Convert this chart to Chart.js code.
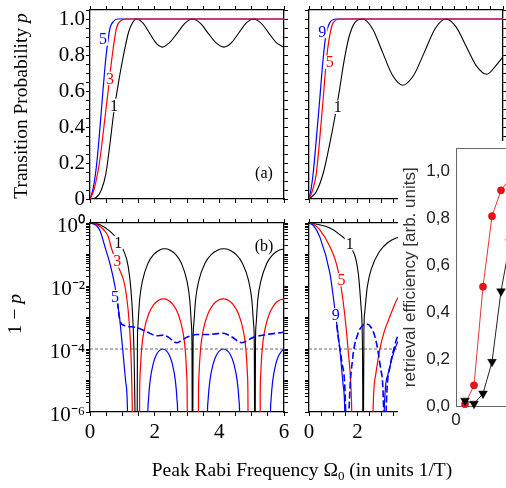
<!DOCTYPE html>
<html>
<head>
<meta charset="utf-8">
<script src="https://cdn.jsdelivr.net/npm/chart.js@4.4.1/dist/chart.umd.min.js"></script>
<style>
  html, body { margin: 0; padding: 0; background: #fff; }
  body { width: 506px; height: 488px; overflow: hidden; position: relative; font-family: "Liberation Serif", "Times New Roman", serif; }
  canvas { position: absolute; }
  .ttl { position: absolute; font-size: 19.5px; white-space: nowrap; color: #000; z-index: 6; line-height: 1; }
</style>
</head>
<body>
<canvas id="tl" width="292" height="207" style="left:0;top:0;z-index:1"></canvas>
<canvas id="tr" width="212" height="207" style="left:297px;top:0;z-index:1"></canvas>
<canvas id="bl" width="292" height="242" style="left:0;top:203px;z-index:2"></canvas>
<canvas id="br" width="212" height="242" style="left:297px;top:203px;z-index:2"></canvas>
<canvas id="ins" width="180" height="347" style="left:398px;top:141px;z-index:5;background:#fff"></canvas>

<div class="ttl" style="left:21px;top:106px;transform:translate(-50%,-50%) rotate(-90deg)">Transition Probability <i>p</i></div>
<div class="ttl" style="left:15px;top:314px;transform:translate(-50%,-50%) rotate(-90deg)">1 &minus; <i>p</i></div>
<div class="ttl" style="left:302px;top:471px;transform:translate(-50%,-50%)">Peak Rabi Frequency &Omega;<sub style="font-size:13px">0</sub> (in units 1/T)</div>

<script>
// ---------- colours ----------
const BLUE = '#0000ff', RED = '#ff0000', BLACK = '#000000';

// ---------- panel (a), left: transition probability p, N = 1, 3, 5 ----------
const tlX1 = [0,0.2,0.35,0.49,0.62,0.72,0.88,1.01,1.19,1.3,1.44,1.64,1.84,2.04,2.24,2.45,2.7,2.94,3.17,3.41,3.65,3.9,4.14,4.37,4.6,4.83,5.05,5.29,5.53,5.77,6.0];
const tlP1 = [0,0.01,0.05,0.14,0.31,0.46,0.645,0.775,0.925,0.975,1.0,0.977,0.922,0.867,0.844,0.867,0.922,0.977,1.0,0.977,0.922,0.867,0.844,0.867,0.922,0.977,1.0,0.977,0.922,0.867,0.844];
const tlX3 = [0,0.12,0.29,0.43,0.56,0.69,0.82,0.95,1.1,6];
const tlP3 = [0,0.05,0.2,0.4,0.6,0.8,0.95,0.99,1.0,1.0];
const tlX5 = [0,0.1,0.21,0.31,0.40,0.50,0.62,0.72,0.85,6];
const tlP5 = [0,0.06,0.2,0.4,0.6,0.8,0.95,0.985,1.0,1.0];

// ---------- panel (a), right: N = 1, 5, 9 ----------
const trX1 = [0,0.3,0.6,0.86,1.06,1.25,1.45,1.65,1.89,2.2,2.62,3.03,3.45,3.86,4.31,4.76,5.2,5.65,6.07,6.49,6.91,7.33,7.7,8.0];
const trP1 = [0,0.04,0.15,0.31,0.45,0.6,0.77,0.9,0.98,1.0,0.946,0.816,0.686,0.632,0.686,0.816,0.946,1.0,0.955,0.846,0.738,0.693,0.74,0.79];
const trX5 = [0,0.15,0.3,0.44,0.58,0.72,0.85,1.0,1.3,8];
const trP5 = [0,0.05,0.14,0.33,0.55,0.775,0.905,0.98,1.0,1.0];
const trX9 = [0,0.08,0.17,0.3,0.44,0.58,0.69,0.86,1.13,8];
const trP9 = [0,0.05,0.14,0.33,0.55,0.775,0.905,0.98,1.0,1.0];

// ---------- panel (b), left: 1 - p on a log axis ----------
const blX1 = [0,0.31,0.62,0.85,1.03,1.18,1.29,1.36,1.45, 1.467,1.484,1.536,1.622,1.794,1.966,2.138,2.31,2.482,2.654,2.826,2.998,3.084,3.136,3.153,3.17, 3.189,3.209,3.267,3.363,3.556,3.749,3.942,4.135,4.328,4.521,4.714,4.907,5.004,5.061,5.081,5.1, 5.118,5.137,5.19,5.285,5.47,5.655,5.84,6.0];
const blQ1 = [1,0.88,0.54,0.3,0.14,0.042,0.0036,9e-5,1e-9, 1.5e-4,6e-4,3.72e-3,0.01452,0.0525,0.0995,0.1375,0.152,0.1375,0.0995,0.0525,0.01452,3.72e-3,6e-4,1.5e-4,1e-9, 1.5e-4,6e-4,3.72e-3,0.01452,0.0525,0.0995,0.1375,0.152,0.1375,0.0995,0.0525,0.01452,3.72e-3,6e-4,1.5e-4,1e-9, 1.5e-4,6e-4,3.72e-3,0.01452,0.0525,0.0995,0.1375,0.151];
const blX3 = [0,0.15,0.29,0.43,0.56,0.67,0.88,1.08,1.2,1.26,1.31,1.34, 1.52,1.535,1.55,1.595,1.67,1.82,1.97,2.12,2.27,2.42,2.57,2.72,2.87,2.945,2.99,3.005,3.02, 3.34,3.356,3.371,3.418,3.496,3.652,3.808,3.964,4.12,4.276,4.432,4.588,4.744,4.822,4.869,4.884,4.9, 5.25,5.265,5.28,5.325,5.4,5.55,5.7,5.85,6.0];
const blQ3 = [1,0.96,0.8,0.6,0.38,0.15,0.04,0.01,1e-3,1e-4,1e-6,1e-9, 1e-9,3.85e-6,1.54e-5,9.55e-5,3.72e-4,1.347e-3,2.553e-3,3.528e-3,3.9e-3,3.528e-3,2.553e-3,1.347e-3,3.72e-4,9.55e-5,1.54e-5,3.85e-6,1e-9, 1e-9,3.85e-6,1.54e-5,9.55e-5,3.72e-4,1.347e-3,2.553e-3,3.528e-3,3.9e-3,3.528e-3,2.553e-3,1.347e-3,3.72e-4,9.55e-5,1.54e-5,3.85e-6,1e-9, 1e-9,3.85e-6,1.54e-5,9.55e-5,3.72e-4,1.347e-3,2.553e-3,3.528e-3,3.9e-3];
const blX5 = [0,0.15,0.3,0.49,0.62,0.77,0.91,1.01,1.1,1.16,1.19, 1.76,1.789,1.809,1.858,1.956,2.054,2.152,2.25,2.348,2.446,2.544,2.642,2.691,2.711,2.74, 3.6,3.632,3.653,3.706,3.812,3.918,4.024,4.13,4.236,4.342,4.448,4.554,4.607,4.628,4.66, 5.55,5.58,5.6,5.65,5.75,5.85,5.95,6.0];
const blQ5 = [1,0.9,0.6,0.14,0.05,0.01,1.07e-3,1e-4,1e-5,1e-6,1e-9, 1e-9,8.8e-7,2.45e-6,9.55e-6,3.45e-5,6.55e-5,9.05e-5,1e-4,9.05e-5,6.55e-5,3.45e-5,9.55e-6,2.45e-6,8.8e-7,1e-9, 1e-9,8.8e-7,2.45e-6,9.55e-6,3.45e-5,6.55e-5,9.05e-5,1e-4,9.05e-5,6.55e-5,3.45e-5,9.55e-6,2.45e-6,8.8e-7,1e-9, 1e-9,8.8e-7,2.45e-6,9.55e-6,3.45e-5,6.55e-5,9.05e-5,9.8e-5];
const blX5d = [0.85,0.9,0.95,1.03,1.44,1.75,2.06,2.27,2.43,2.68,2.99,3.3,3.61,3.85,4.12,4.38,4.69,5.05,5.47,6.0];
const blQ5d = [3.16e-3,1.12e-3,6.8e-4,5.75e-4,4.8e-4,3.55e-4,2.63e-4,2.75e-4,2.34e-4,1.58e-4,2.34e-4,2.88e-4,2.88e-4,3.0e-4,3.16e-4,2.45e-4,1.58e-4,2.34e-4,2.88e-4,3.39e-4];

// ---------- panel (b), right ----------
const brX1 = [0,0.28,0.86,1.27,1.68,2.03,2.15,2.21,2.23, 2.264,2.298,2.401,2.572,2.914,3.256,3.598,3.94,4.28,4.624,4.966,5.308,5.479,5.616,5.65, 5.684,5.818,5.986,6.322,6.658,6.994,7.33,7.666,8.0];
const brQ1 = [1,0.93,0.69,0.43,0.2,0.026,2e-3,5e-5,1e-9, 3.63e-4,1.45e-3,9.0e-3,0.0351,0.127,0.241,0.333,0.368,0.333,0.241,0.127,0.0351,9.0e-3,3.63e-4,1e-9, 3.03e-4,7.5e-3,0.0293,0.106,0.201,0.278,0.307,0.278,0.21];
const brX5 = [0,0.2,0.44,0.86,1.16,1.4,1.61,1.75,1.85, 2.6,2.64,2.75,2.92,3.1,3.27,3.45,3.65,3.9];
const brQ5 = [1,0.9,0.62,0.18,0.042,3.6e-3,1e-4,2.5e-6,1e-9, 1e-9,1e-6,1.5e-5,9.8e-5,3.5e-4,8e-4,1.8e-3,4e-3,6e-3];
const brX9 = [0,0.2,0.44,0.86,1.06,1.27,1.4,1.48,1.52, 3.06,3.1,3.25,3.45,3.65,3.9];
const brQ9 = [1,0.8,0.37,0.026,2e-3,1e-4,8e-6,8e-7,1e-9, 1e-9,1e-6,1.5e-5,6e-5,1.6e-4,3e-4];
const brX9d = [1.1,1.2,1.35,1.5,1.57,1.65,1.8,2.0,2.2,2.37,2.55,2.75,2.95,3.08,3.12,3.18,3.35,3.5,3.65,3.9];
const brQ9d = [1.2e-3,2.5e-4,4e-5,2e-6,1e-9,1e-6,5e-5,2.8e-4,5.5e-4,6.2e-4,5e-4,2e-4,2.5e-5,1e-6,1e-9,1e-6,3e-5,1e-4,2.5e-4,5e-4];

// reference level 1e-4
const refQ = [1e-4, 1e-4];

// ---------- inset: retrieval efficiency ----------
const insX = [1,2,3,4,5,6];
const insRed = [0.01,0.09,0.51,0.81,0.92,0.97];
const insBlack = [0.025,0.012,0.055,0.19,0.49,0.70];

// ---------- curve tags (data coordinates) ----------
const tagsTL = [{t:'5', x:0.40, y:0.89, c:BLUE}, {t:'3', x:0.62, y:0.67, c:RED}, {t:'1', x:0.74, y:0.52, c:BLACK}, {t:'(a)', x:5.38, y:0.145, c:BLACK, plain:true}];
const tagsTR = [{t:'9', x:0.55, y:0.93, c:BLUE}, {t:'5', x:0.86, y:0.76, c:RED}, {t:'1', x:1.19, y:0.51, c:BLACK}];
const tagsBL = [{t:'1', x:0.87, y:0.24, c:BLACK}, {t:'3', x:0.84, y:0.063, c:RED}, {t:'5', x:0.77, y:4.6e-3, c:BLUE}, {t:'(b)', x:5.38, y:0.19, c:BLACK, plain:true}];
const tagsBR = [{t:'1', x:1.68, y:0.22, c:BLACK}, {t:'5', x:1.34, y:0.0158, c:RED}, {t:'9', x:1.1, y:1.2e-3, c:BLUE}];

// ---------- helpers ----------
const SERIF = '"Liberation Serif", "Times New Roman", serif';
const SANS = '"Liberation Sans", Arial, sans-serif';
const SUP = { '0': '\u2070', '-2': '\u207B\u00B2', '-4': '\u207B\u2074', '-6': '\u207B\u2076' };

function series(xs, ys) { return xs.map((x, i) => ({ x, y: ys[i] })); }
function steps(a, b, d) { const out = []; const n = Math.round((b - a) / d); for (let i = 0; i <= n; i++) out.push(+(a + i * d).toFixed(6)); return out; }
function logSteps(e0, e1) { const out = []; for (let e = e0; e < e1; e++) for (let s = 1; s <= 9; s++) out.push(+(s * Math.pow(10, e)).toPrecision(6)); out.push(Math.pow(10, e1)); return out; }

function line(data, color, extra) {
  return Object.assign({ data, borderColor: color, backgroundColor: color, borderWidth: 1.2, pointRadius: 0, fill: false, cubicInterpolationMode: 'monotone' }, extra || {});
}

function frameAxis(pos, type, min, max, ticks, size, labels, tickOpts) {
  const horiz = pos === 'top' || pos === 'bottom';
  return {
    type, position: pos, min, max,
    afterBuildTicks: s => { s.ticks = ticks.map(v => ({ value: v })); },
    afterFit: s => { if (horiz) s.height = size; else s.width = size; s.paddingLeft = s.paddingRight = s.paddingTop = s.paddingBottom = 0; },
    grid: { display: true, drawOnChartArea: false, drawTicks: true, tickLength: 4, color: '#000', tickColor: '#000', tickWidth: 1 },
    border: { display: true, color: '#000', width: 1.3 },
    ticks: Object.assign({ display: !!labels, autoSkip: false, maxRotation: 0, minRotation: 0, padding: 2, color: '#000',
      font: { family: SERIF, size: 21 }, callback: labels || (() => '') }, tickOpts || {})
  };
}

const labP = v => { const k = Math.round(v * 20); if (k % 4 !== 0 || k > 20) return ''; return k === 0 ? '0' : (k / 20).toFixed(1); };
const labEven = v => (Math.abs(v / 2 - Math.round(v / 2)) < 1e-9 ? String(Math.round(v)) : '');
const labLog = v => { const r = Math.round(Math.log10(v)); return (Math.abs(v / Math.pow(10, r) - 1) < 1e-6 && r % 2 === 0) ? '10' + SUP[String(r === 0 ? 0 : r)] : ''; };

// text tags drawn on the curves, with a white gap behind them
const curveTags = {
  id: 'curveTags',
  afterDatasetsDraw(chart, args, opts) {
    const { ctx } = chart, xs = chart.scales.x, ys = chart.scales.y;
    const size = opts.size || 16;
    (opts.items || []).forEach(it => {
      const px = xs.getPixelForValue(it.x), py = ys.getPixelForValue(it.y);
      ctx.save();
      ctx.font = size + 'px ' + SERIF;
      const w = ctx.measureText(it.t).width;
      if (!it.plain) { ctx.fillStyle = '#fff'; ctx.fillRect(px - w / 2 - 1, py - size * 0.42, w + 2, size * 0.84); }
      ctx.fillStyle = it.c; ctx.textAlign = 'center'; ctx.textBaseline = 'middle';
      ctx.fillText(it.t, px, py + 1);
      ctx.restore();
    });
  }
};

function common(scales, tags) {
  return {
    responsive: false, maintainAspectRatio: false, animation: false, events: [],
    layout: { padding: 0 },
    plugins: { legend: { display: false }, tooltip: { enabled: false }, curveTags: { items: tags, size: 16 } },
    scales
  };
}

const xTicks6 = steps(0, 6, 0.5), xTicks8 = steps(0, 8, 0.5);
const pTicks = steps(0, 1.05, 0.05), qTicks = logSteps(-6, 0);

// ---------- panel (a) left ----------
new Chart(document.getElementById('tl'), {
  type: 'line',
  data: { datasets: [
    line(series(tlX3, tlP3), RED, { order: 0 }),
    line(series(tlX5, tlP5), BLUE, { order: 1 }),
    line(series(tlX1, tlP1), BLACK, { order: 2, borderWidth: 1.1 })
  ] },
  options: common({
    x: frameAxis('bottom', 'linear', 0, 6, xTicks6, 8),
    x2: frameAxis('top', 'linear', 0, 6, xTicks6, 10),
    y: frameAxis('left', 'linear', 0, 1.05, pTicks, 90, labP, { padding: 1 }),
    y2: frameAxis('right', 'linear', 0, 1.05, pTicks, 8)
  }, tagsTL),
  plugins: [curveTags]
});

// ---------- panel (a) right ----------
new Chart(document.getElementById('tr'), {
  type: 'line',
  data: { datasets: [
    line(series(trX5, trP5), RED, { order: 0 }),
    line(series(trX9, trP9), BLUE, { order: 1 }),
    line(series(trX1, trP1), BLACK, { order: 2, borderWidth: 1.1 })
  ] },
  options: common({
    x: frameAxis('bottom', 'linear', 0, 8, xTicks8, 8),
    x2: frameAxis('top', 'linear', 0, 8, xTicks8, 10),
    y: frameAxis('left', 'linear', 0, 1.05, pTicks, 12),
    y2: frameAxis('right', 'linear', 0, 1.05, pTicks, 6)
  }, tagsTR),
  plugins: [curveTags]
});

// ---------- panel (b) left ----------
new Chart(document.getElementById('bl'), {
  type: 'line',
  data: { datasets: [
    line(series([0, 6], refQ), '#444', { order: 4, borderWidth: 0.8, borderDash: [3, 2], cubicInterpolationMode: 'default' }),
    line(series(blX5d, blQ5d), BLUE, { order: 0, borderWidth: 1.6, borderDash: [7, 3] }),
    line(series(blX5, blQ5), BLUE, { order: 1 }),
    line(series(blX3, blQ3), RED, { order: 2 }),
    line(series(blX1, blQ1), BLACK, { order: 3, borderWidth: 1.1 })
  ] },
  options: common({
    x: frameAxis('bottom', 'linear', 0, 6, xTicks6, 33, labEven, { padding: 4 }),
    x2: frameAxis('top', 'linear', 0, 6, xTicks6, 20),
    y: frameAxis('logarithmic' === 'logarithmic' ? 'left' : 'left', 'logarithmic', 1e-6, 1, qTicks, 90, labLog, { padding: 1, labelOffset: 3 }),
    y2: frameAxis('right', 'logarithmic', 1e-6, 1, qTicks, 8)
  }, tagsBL),
  plugins: [curveTags]
});

// ---------- panel (b) right ----------
new Chart(document.getElementById('br'), {
  type: 'line',
  data: { datasets: [
    line(series([0, 8], refQ), '#444', { order: 4, borderWidth: 0.8, borderDash: [3, 2], cubicInterpolationMode: 'default' }),
    line(series(brX9d, brQ9d), BLUE, { order: 0, borderWidth: 1.6, borderDash: [7, 3] }),
    line(series(brX9, brQ9), BLUE, { order: 1 }),
    line(series(brX5, brQ5), RED, { order: 2 }),
    line(series(brX1, brQ1), BLACK, { order: 3, borderWidth: 1.1 })
  ] },
  options: common({
    x: frameAxis('bottom', 'linear', 0, 8, xTicks8, 33, labEven, { padding: 4 }),
    x2: frameAxis('top', 'linear', 0, 8, xTicks8, 20),
    y: frameAxis('left', 'logarithmic', 1e-6, 1, qTicks, 12),
    y2: frameAxis('right', 'logarithmic', 1e-6, 1, qTicks, 6)
  }, tagsBR),
  plugins: [curveTags]
});

// ---------- inset ----------
const insFrame = (pos, size) => ({
  afterFit: s => { if (pos === 'top' || pos === 'bottom') s.height = size; else s.width = size; s.paddingLeft = s.paddingRight = s.paddingTop = s.paddingBottom = 0; },
  grid: { display: true, drawOnChartArea: false, drawTicks: false },
  border: { display: true, color: '#666', width: 1 }
});
new Chart(document.getElementById('ins'), {
  type: 'line',
  data: { datasets: [
    { data: series(insX, insBlack), borderColor: '#222', borderWidth: 1, pointStyle: 'triangle', rotation: 180, pointRadius: 5,
      pointBackgroundColor: '#000', pointBorderColor: '#000', pointBorderWidth: 0.5, clip: false, tension: 0 },
    { data: series(insX, insRed), borderColor: '#dd3a3a', borderWidth: 1, pointStyle: 'circle', pointRadius: 3.6,
      pointBackgroundColor: '#e8141c', pointBorderColor: '#c00000', pointBorderWidth: 0.5, clip: false, tension: 0 }
  ] },
  options: {
    responsive: false, maintainAspectRatio: false, animation: false, events: [],
    layout: { padding: { right: 14 } },
    plugins: { legend: { display: false }, tooltip: { enabled: false } },
    scales: {
      x: Object.assign(insFrame('bottom', 81.5), {
        type: 'linear', position: 'bottom', min: 0, max: 12,
        afterBuildTicks: s => { s.ticks = [0, 10].map(v => ({ value: v })); },
        ticks: { autoSkip: false, maxRotation: 0, padding: 4, color: '#222', font: { family: SANS, size: 17 }, callback: v => String(v) }
      }),
      x2: Object.assign(insFrame('top', 7), { type: 'linear', position: 'top', min: 0, max: 12, ticks: { display: false } }),
      y: Object.assign(insFrame('left', 58), {
        type: 'linear', position: 'left', min: 0, max: 1.1,
        afterBuildTicks: s => { s.ticks = steps(0, 1, 0.2).map(v => ({ value: v })); },
        ticks: { autoSkip: false, padding: 6, color: '#222', font: { family: SANS, size: 17 }, callback: v => v.toFixed(1).replace('.', ',') },
        title: { display: true, text: 'retrieval efficiency [arb. units]', color: '#333', font: { family: SANS, size: 17 }, padding: { top: 2, bottom: 0 } }
      })
    }
  }
});
</script>
</body>
</html>
